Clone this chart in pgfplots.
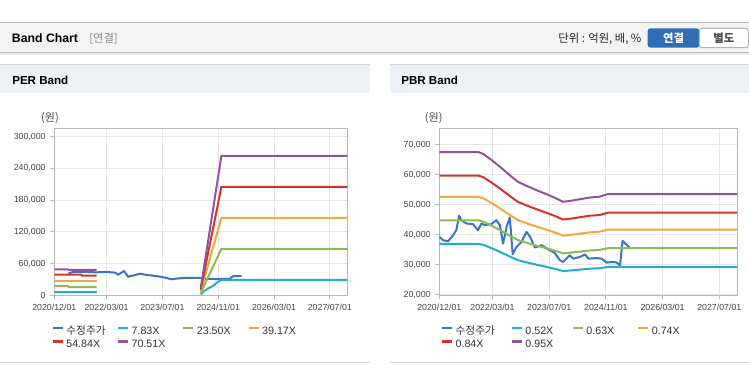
\documentclass[border=0pt]{standalone}
\usepackage{pgfplots}
\pgfplotsset{compat=1.18}
\usepackage{fontspec}
\setmainfont{Liberation Sans}
\newfontfamily\kr{Noto Sans CJK KR}
\definecolor{cBlue}{HTML}{3A74C6}
\definecolor{cTeal}{HTML}{1FB2C4}
\definecolor{cGreen}{HTML}{8DBB52}
\definecolor{cOrange}{HTML}{F2A83C}
\definecolor{cRed}{HTML}{D6342B}
\definecolor{cPurple}{HTML}{93529F}
\definecolor{gridc}{HTML}{E6E6E6}
\definecolor{axc}{HTML}{B8B8B8}
\definecolor{tickc}{HTML}{444444}
\definecolor{legc}{HTML}{333333}
\definecolor{hdrbg}{HTML}{F4F4F4}
\definecolor{hdrline}{HTML}{B4B4B4}
\definecolor{panelbg}{HTML}{EEF1F6}
\definecolor{panelline}{HTML}{D4D4D4}
\definecolor{btnblue}{HTML}{2F6DB5}

\pgfplotsset{band/.style={
  scale only axis, xmin=0, xmax=84,
  xtick={0,15,31,47,63,79},
  xticklabels={2020/12/01,2022/03/01,2023/07/01,2024/11/01,2026/03/01,2027/07/01},
  grid=major, major grid style={gridc, line width=0.75pt},
  axis line style={axc, line width=0.75pt},
  tick style={axc, line width=0.75pt},
  tick align=outside, major tick length=3pt, tick pos=left,
  ticklabel style={font=\fontsize{6.6}{7}\selectfont, text=tickc},
  /pgf/number format/assume math mode=true,
  /pgf/number format/fixed,
  /pgf/number format/1000 sep={,},
  scaled y ticks=false,
  legend style={draw=none, fill=none, font=\fontsize{8}{9}\selectfont, text=legc,
    legend columns=4, anchor=north west, inner sep=0pt, outer sep=0pt,
    nodes={inner sep=0pt, text height=6.5pt, text depth=2.5pt},
    row sep=1pt, column sep=0pt},
  legend image code/.code={\draw[#1, line width=2pt] (0pt,2.9pt) -- (7.5pt,2.9pt); \path (9.4pt,2.9pt);},
  legend cell align=left,
  every axis plot/.append style={line width=1.5pt, line join=round},
}}

\begin{document}
\begin{tikzpicture}
\begin{scope}[x=0.75pt,y=-0.75pt]
\path[use as bounding box] (0,0) rectangle (749,364);
\fill[white] (0,0) rectangle (749,364);
% header bar
\fill[hdrbg] (0,22.5) rectangle (749,52);
\draw[hdrline, line width=0.75pt] (0,22.5) -- (749,22.5);
\fill[black!25] (0,52) rectangle (749,53);
\fill[black!8] (0,53) rectangle (749,54.5);
\node[anchor=base west, inner sep=0pt] at (11.7,42.7) {\fontsize{9.2}{11}\selectfont\bfseries Band Chart};
\node[anchor=base west, inner sep=0pt, text=black!45] at (89,42.7) {\kr\fontsize{8.5}{10}\selectfont [연결]};
\node[anchor=base east, inner sep=0pt, text=black!85] at (641.7,42.3) {\kr\fontsize{8.5}{10}\selectfont 단위 : 억원, 배, \%};
\fill[btnblue, rounded corners=2pt] (647.7,28.3) rectangle (699.3,47.7);
\filldraw[fill=white, draw=black!30, line width=0.75pt, rounded corners=2pt] (699.3,28.3) rectangle (748.3,47.7);
\node[text=white, inner sep=0pt] at (673.5,38) {\kr\fontsize{8.5}{10}\selectfont\bfseries 연결};
\node[text=black!70, inner sep=0pt] at (723.8,38) {\kr\fontsize{8.5}{10}\selectfont\bfseries 별도};
% panel headers
\fill[panelbg] (0,64.5) rectangle (370,92.7);
\draw[panelline, line width=0.75pt] (0,64.5) -- (370,64.5);
\fill[panelbg] (390,64.5) rectangle (749,92.7);
\draw[panelline, line width=0.75pt] (390,64.5) -- (749,64.5);
\node[anchor=west, inner sep=0pt] at (12,80) {\fontsize{8.7}{10}\selectfont\bfseries PER Band};
\node[anchor=west, inner sep=0pt] at (401,80) {\fontsize{8.7}{10}\selectfont\bfseries PBR Band};
\draw[panelline, line width=0.75pt] (0,362.5) -- (370,362.5);
\draw[panelline, line width=0.75pt] (390,362.5) -- (749,362.5);
% unit labels
\node[text=black!70, inner sep=0pt] at (50,118.3) {\kr\fontsize{8.3}{9}\selectfont (원)};
\node[text=black!70, inner sep=0pt] at (433.7,118.3) {\kr\fontsize{8.3}{9}\selectfont (원)};
\coordinate (perO) at (54.3,295.3);
\coordinate (pbrO) at (439.3,295.3);
\end{scope}

% ---------------- PER Band ----------------
\begin{axis}[band, at={(perO)}, anchor=south west,
  width=219.75pt, height=125.25pt,
  ymin=0, ymax=316000, ytick={0,60000,120000,180000,240000,300000},
  legend style={at={(-0.0095,-0.183)}}]
\addplot[cBlue] coordinates {(4,41000) (4.8,43000) (5.6,44200) (8,44500) (10,44000) (12,43500) (14,44000) (15,44200) (17.4,43000) (18.3,39000) (20,46000) (21.2,34700) (21.7,36600) (22.6,37300) (24.6,41000) (26,39000) (27.4,37900) (30.3,35400) (32.2,32800) (33.6,30300) (35,31600) (37,32800) (42.2,32800) (43.2,31000) (50.3,31000) (50.8,34000) (51.3,36300) (53.7,36300)};
\addlegendentry{\makebox[37.8pt][l]{\kr 수정주가}}
\addplot[cTeal] coordinates {(0,5700) (12.1,5700)};
\addlegendentry{\makebox[37.8pt][l]{7.83X}}
\addplot[cGreen] coordinates {(0,17500) (4,17500) (4.1,15500) (12.1,15500)};
\addlegendentry{\makebox[37.8pt][l]{23.50X}}
\addplot[cOrange] coordinates {(0,26500) (12.1,26500)};
\addlegendentry{\makebox[37.8pt][l]{39.17X}}
\addplot[cRed] coordinates {(0,39200) (7.8,39200) (7.9,37300) (12.1,37300)};
\addlegendentry{\makebox[37.8pt][l]{54.84X}}
\addplot[cPurple] coordinates {(0,49300) (4,49300) (4.1,48000) (12.1,48000)};
\addlegendentry{\makebox[37.8pt][l]{70.51X}}
\addplot[cTeal, forget plot] coordinates {(42,1600) (42.7,6900) (43.7,11300) (45.6,18200) (47,25800) (47.9,29300) (84,29300)};
\addplot[cGreen, forget plot] coordinates {(42,4700) (47.9,87900) (84,87900)};
\addplot[cOrange, forget plot] coordinates {(42,7800) (47.9,146500) (84,146500)};
\addplot[cRed, forget plot] coordinates {(42,11000) (47.9,205100) (84,205100)};
\addplot[cPurple, forget plot] coordinates {(42,14100) (47.9,263700) (84,263700)};
\end{axis}

% ---------------- PBR Band ----------------
\begin{axis}[band, at={(pbrO)}, anchor=south west,
  width=223.3pt, height=125.25pt,
  ymin=19800, ymax=75400, ytick={20000,30000,40000,50000,60000,70000},
  legend style={at={(0.005,-0.183)}}]
\addplot[cBlue] coordinates {(0,39300) (1.1,38100) (2.5,37800) (3.9,39800) (4.8,41500) (5.6,46300) (6.2,44800) (7.7,43700) (9.5,43500) (10.9,41500) (11.9,43700) (12.8,43200) (14.7,43500) (16.1,44800) (17.1,43200) (18,37000) (19,42600) (19.9,45700) (20.7,33500) (21.8,35900) (23.2,37600) (24.6,40900) (25.6,39300) (27,35700) (28.9,36500) (30.8,35000) (32.6,33900) (34,31500) (34.9,30900) (36.8,33100) (37.8,32000) (39.7,32600) (41.1,33400) (42.1,32000) (44.4,32200) (45.8,32000) (47.2,30700) (49.1,30900) (50,30700) (51,29800) (51.7,37900) (52.8,36700) (53.7,35700)};
\addlegendentry{\makebox[41.2pt][l]{\kr 수정주가}}
\addplot[cTeal] coordinates {(0,36946) (11,36946) (12.4,36608) (14.7,35516) (17.1,34268) (19.9,32708) (22.2,31512) (24.6,30784) (27.4,30004) (30.2,29276) (33,28496) (34.9,27872) (36.8,28028) (39.6,28340) (42.4,28652) (45.2,28808) (47.5,29276) (84,29276)};
\addlegendentry{\makebox[34.6pt][l]{0.52X}}
\addplot[cGreen] coordinates {(0,44762) (11,44762) (12.4,44352) (14.7,43029) (17.1,41517) (19.9,39627) (22.2,38178) (24.6,37296) (27.4,36351) (30.2,35469) (33,34524) (34.9,33768) (36.8,33957) (39.6,34335) (42.4,34713) (45.2,34902) (47.5,35469) (84,35469)};
\addlegendentry{\makebox[37.9pt][l]{0.63X}}
\addplot[cOrange] coordinates {(0,52577) (11,52577) (12.4,52096) (14.7,50542) (17.1,48766) (19.9,46546) (22.2,44844) (24.6,43808) (27.4,42698) (30.2,41662) (33,40552) (34.9,39664) (36.8,39886) (39.6,40330) (42.4,40774) (45.2,40996) (47.5,41662) (84,41662)};
\addlegendentry{\makebox[37.9pt][l]{0.74X}}
\addplot[cRed] coordinates {(0,59682) (11,59682) (12.4,59136) (14.7,57372) (17.1,55356) (19.9,52836) (22.2,50904) (24.6,49728) (27.4,48468) (30.2,47292) (33,46032) (34.9,45024) (36.8,45276) (39.6,45780) (42.4,46284) (45.2,46536) (47.5,47292) (84,47292)};
\addlegendentry{\makebox[41.2pt][l]{0.84X}}
\addplot[cPurple] coordinates {(0,67498) (11,67498) (12.4,66880) (14.7,64885) (17.1,62605) (19.9,59755) (22.2,57570) (24.6,56240) (27.4,54815) (30.2,53485) (33,52060) (34.9,50920) (36.8,51205) (39.6,51775) (42.4,52345) (45.2,52630) (47.5,53485) (84,53485)};
\addlegendentry{\makebox[34.6pt][l]{0.95X}}
\end{axis}
\end{tikzpicture}
\end{document}
